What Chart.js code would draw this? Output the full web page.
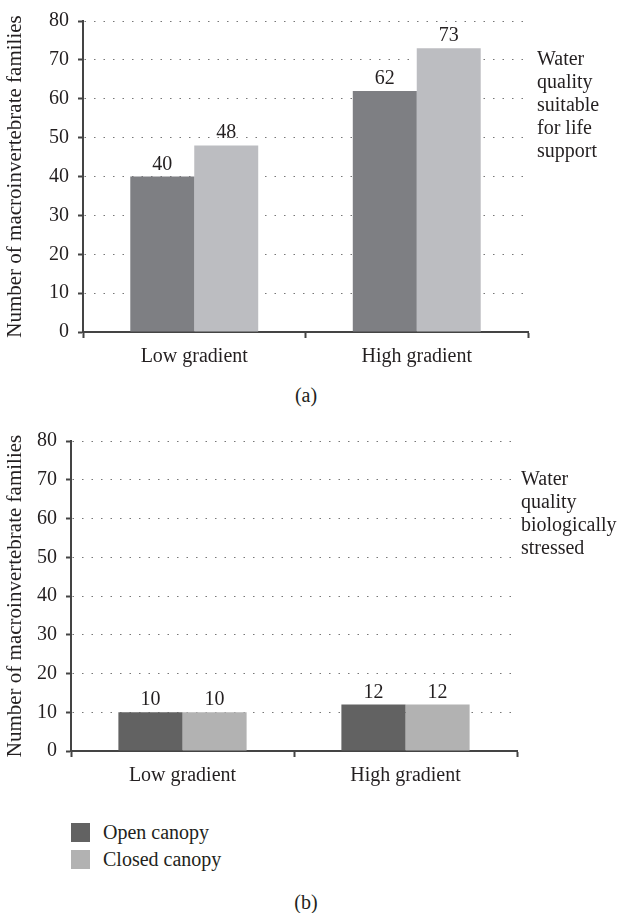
<!DOCTYPE html>
<html>
<head>
<meta charset="utf-8">
<script src="https://cdn.jsdelivr.net/npm/chart.js@4/dist/chart.umd.min.js"></script>
<style>
  body { margin: 0; background: #fff; }
  #page { position: relative; width: 629px; height: 913px; background: #fff;
          font-family: "Liberation Serif", serif; color: #231f20; }
  canvas { position: absolute; left: 0; }
  .cap { position: absolute; font-size: 20px; width: 60px; text-align: center; }
  .legend { position: absolute; left: 71px; font-size: 20px; }
  .legend div { height: 27px; display: flex; align-items: center; }
  .legend span { display: inline-block; width: 19px; height: 19px; margin-right: 13px; }
</style>
</head>
<body>
<div id="page">
  <canvas id="chartA" width="629" height="380" style="top:0"></canvas>
  <div class="cap" style="left:276px; top:384px">(a)</div>
  <canvas id="chartB" width="629" height="380" style="top:420px"></canvas>
  <div class="legend" id="legend" style="top:819px"></div>
  <div class="cap" style="left:276px; top:891px">(b)</div>
</div>
<script>
const categories = ['Low gradient', 'High gradient'];
const seriesNames = ['Open canopy', 'Closed canopy'];
const openA = [40, 62];
const closedA = [48, 73];
const openB = [10, 12];
const closedB = [10, 12];
const yMin = 0, yMax = 80, yStep = 10;
const noteA = ['Water', 'quality', 'suitable', 'for life', 'support'];
const noteB = ['Water', 'quality', 'biologically', 'stressed'];

const textColor = '#231f20';
const axisColor = '#444444';
const font = '20px "Liberation Serif"';

Chart.defaults.font.family = '"Liberation Serif", serif';
Chart.defaults.font.size = 20;
Chart.defaults.color = textColor;

// numbers above each bar
const valueLabels = {
    id: 'valueLabels',
    afterDatasetsDraw(chart) {
        const ctx = chart.ctx;
        ctx.save();
        ctx.font = font;
        ctx.fillStyle = textColor;
        ctx.textAlign = 'center';
        ctx.textBaseline = 'alphabetic';
        chart.data.datasets.forEach((ds, i) => {
            chart.getDatasetMeta(i).data.forEach((bar, j) => {
                ctx.fillText(ds.data[j], bar.x, bar.y - 7);
            });
        });
        ctx.restore();
    }
};

// text block to the right of the plot
const sideNote = {
    id: 'sideNote',
    afterDraw(chart, args, opts) {
        const {ctx, chartArea, scales} = chart;
        ctx.save();
        ctx.font = font;
        ctx.fillStyle = textColor;
        ctx.textAlign = 'left';
        ctx.textBaseline = 'middle';
        const y0 = scales.y.getPixelForValue(opts.at);
        opts.lines.forEach((t, i) => ctx.fillText(t, chartArea.right + opts.dx, y0 + i * 23));
        ctx.restore();
    }
};

function makeChart(id, open, closed, colors, note, box) {
    return new Chart(document.getElementById(id), {
        type: 'bar',
        data: {
            labels: categories,
            datasets: [
                { label: seriesNames[0], data: open, backgroundColor: colors[0] },
                { label: seriesNames[1], data: closed, backgroundColor: colors[1] }
            ]
        },
        options: {
            responsive: false,
            animation: false,
            events: [],
            categoryPercentage: 0.575,
            barPercentage: 1.0,
            layout: { padding: { left: 0, top: box.top, right: box.right, bottom: 0 } },
            plugins: {
                legend: { display: false },
                tooltip: { enabled: false },
                sideNote: { lines: note, at: 70, dx: box.noteDx }
            },
            scales: {
                x: {
                    grid: { drawOnChartArea: false, drawTicks: true, tickLength: 6,
                            tickColor: axisColor, tickWidth: 2 },
                    border: { color: axisColor, width: 2 },
                    ticks: { padding: 7, color: textColor },
                    afterFit: (s) => { s.height = box.xh; }
                },
                y: {
                    min: yMin, max: yMax,
                    ticks: { stepSize: yStep, padding: 9, color: textColor },
                    grid: { color: '#777777', lineWidth: 1, tickLength: 5,
                            tickColor: axisColor, tickWidth: 2 },
                    border: { color: axisColor, width: 2, dash: [1.5, 8], dashOffset: -10 },
                    title: { display: true, text: 'Number of macroinvertebrate families',
                             color: textColor, font: { size: 21 }, padding: { top: 3, bottom: 0 } },
                    afterFit: (s) => { s.width = box.left; }
                }
            }
        },
        plugins: [valueLabels, sideNote]
    });
}

makeChart('chartA', openA, closedA, ['#7e7f83', '#bcbdc1'], noteA,
    { top: 16, right: 101, left: 83, xh: 48, noteDx: 9 });
const chartB = makeChart('chartB', openB, closedB, ['#626262', '#b2b2b2'], noteB,
    { top: 15, right: 112, left: 71, xh: 49, noteDx: 4 });

// legend built from the second chart's datasets
const legend = document.getElementById('legend');
chartB.data.datasets.forEach(ds => {
    const row = document.createElement('div');
    row.innerHTML = '<span style="background:' + ds.backgroundColor + '"></span>' + ds.label;
    legend.appendChild(row);
});
</script>
</body>
</html>
